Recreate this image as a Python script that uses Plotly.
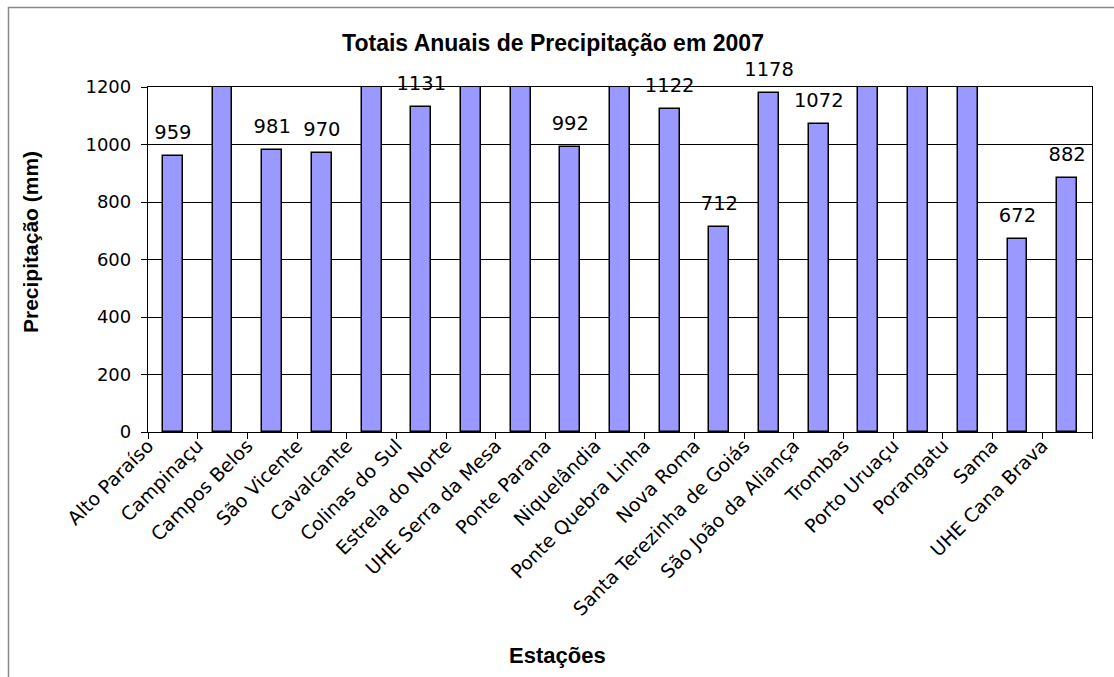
import plotly.graph_objects as go

# ---- data ----
stations = ["Alto Paraíso", "Campinaçu", "Campos Belos", "São Vicente", "Cavalcante",
            "Colinas do Sul", "Estrela do Norte", "UHE Serra da Mesa", "Ponte Parana",
            "Niquelândia", "Ponte Quebra Linha", "Nova Roma", "Santa Terezinha de Goiás",
            "São João da Aliança", "Trombas", "Porto Uruaçu", "Porangatu", "Sama",
            "UHE Cana Brava"]
precip_mm = [959, 1450, 981, 970, 1500, 1131, 1204, 1400, 992, 1350,
             1122, 712, 1178, 1072, 1480, 1420, 1380, 672, 882]
y_ticks = [0, 200, 400, 600, 800, 1000, 1200]
y_max = 1200

title_text = "Totais Anuais de Precipitação em 2007"
x_title = "Estações"
y_title = "Precipitação (mm)"

# ---- layout helpers ----
n = len(stations)
centers = [i + 0.5 for i in range(n)]
labels = [str(v) if v <= y_max else "" for v in precip_mm]

W, H = 1114, 677
L, R, T, B = 148, 22, 87, 245
pw, ph = W - L - R, H - T - B

def px_to_paper_x(px):
    return (px - L) / pw

def px_to_paper_y(py):
    return (H - B - py) / ph

fig = go.Figure()
fig.add_trace(go.Bar(
    x=centers, y=precip_mm, width=0.4,
    marker=dict(color="#9999FF", line=dict(color="black", width=1.5)),
    cliponaxis=True, hoverinfo="x+y", showlegend=False,
))
fig.add_trace(go.Scatter(
    x=centers, y=precip_mm, mode="markers+text", text=labels,
    textposition="top center",
    textfont=dict(family="DejaVu Sans", size=19.5, color="black"),
    marker=dict(size=18, color="rgba(0,0,0,0)"),
    cliponaxis=False, hoverinfo="skip", showlegend=False,
))

fig.update_layout(
    width=W, height=H,
    margin=dict(l=L, r=R, t=T, b=B, autoexpand=False),
    paper_bgcolor="white", plot_bgcolor="white",
    title=dict(text=title_text, x=553 / W,
               xanchor="center", y=1 - 43 / H, yanchor="middle",
               font=dict(family="Liberation Sans", size=23, color="black", weight="bold")),
    bargap=0,
)
fig.update_xaxes(
    range=[0, n], tickmode="array",
    tickvals=list(range(n + 1)), ticktext=stations + [""],
    tickangle=-45, ticks="outside", ticklen=6, tickcolor="black",
    ticklabelstandoff=-12, ticklabelshift=0,
    tickfont=dict(family="DejaVu Sans", size=19, color="black"),
    showline=True, linecolor="black", linewidth=1.3, mirror=True,
    showgrid=False, zeroline=False,
)
fig.update_yaxes(
    range=[0, y_max], tickmode="array", tickvals=y_ticks,
    ticks="outside", ticklen=6, tickcolor="black", ticklabelstandoff=6,
    tickfont=dict(family="DejaVu Sans", size=18, color="black"),
    showline=True, linecolor="black", linewidth=1.3, mirror=True,
    showgrid=True, gridcolor="black", gridwidth=1, zeroline=False,
)

fig.add_annotation(
    text=x_title, xref="paper", yref="paper",
    x=px_to_paper_x(557), y=px_to_paper_y(655), xanchor="center", yanchor="middle",
    showarrow=False, font=dict(family="Liberation Sans", size=22, color="black", weight="bold"),
)
fig.add_annotation(
    text=y_title, xref="paper", yref="paper", textangle=-90,
    x=px_to_paper_x(30), y=px_to_paper_y(242), xanchor="center", yanchor="middle",
    showarrow=False, font=dict(family="Liberation Sans", size=21, color="black", weight="bold"),
)

# outer chart-area frame
fig.add_shape(
    type="rect", xref="paper", yref="paper",
    x0=px_to_paper_x(8.5), x1=px_to_paper_x(W + 10),
    y0=px_to_paper_y(H + 10), y1=px_to_paper_y(7.5),
    line=dict(color="#8a8a8a", width=1.5), fillcolor="rgba(0,0,0,0)", layer="below",
)

fig.write_html("out.html", config={"displayModeBar": False},
               post_script="document.body.style.margin='0';document.body.style.padding='0';document.body.style.overflow='hidden';")
